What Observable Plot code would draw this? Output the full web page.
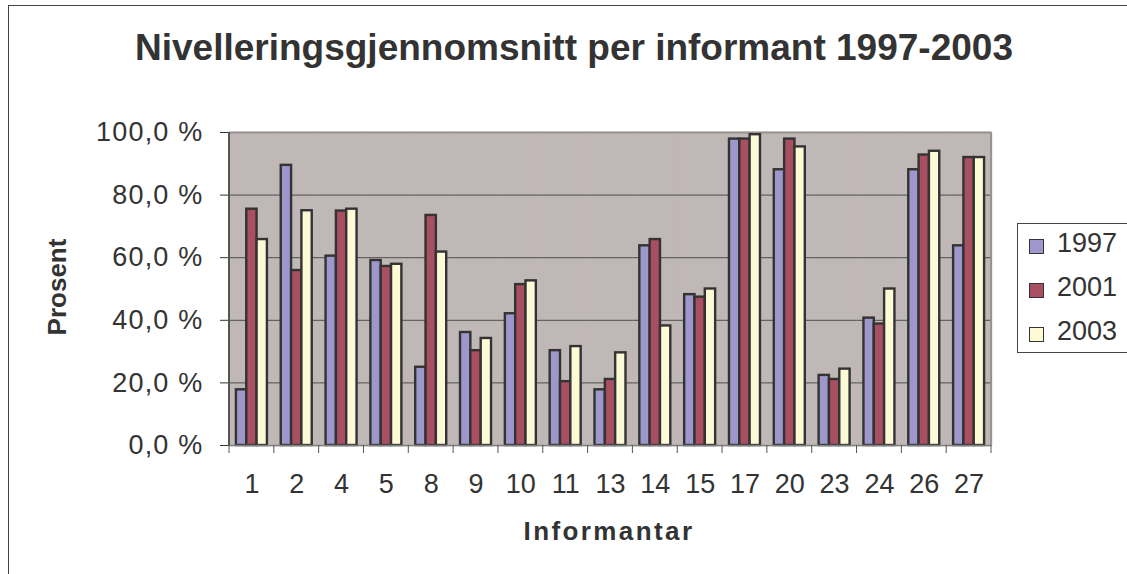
<!DOCTYPE html>
<html>
<head>
<meta charset="utf-8">
<script src="https://cdn.jsdelivr.net/npm/d3@7"></script>
<script src="https://cdn.jsdelivr.net/npm/@observablehq/plot@0.6"></script>
<style>
  html, body { margin: 0; padding: 0; background: #fff; overflow: hidden; }
  #wrap { position: relative; width: 1127px; height: 574px; overflow: hidden; font-family: "Liberation Sans", Arial, sans-serif; color: #333; }
  #border { position: absolute; left: 8px; top: 5px; width: 1200px; height: 700px; border: 1px solid #444; box-sizing: border-box; }
  #title { position: absolute; left: 0; width: 1148px; top: 29px; text-align: center; font-weight: bold; font-size: 37px; line-height: 37px; color: #333; white-space: nowrap; }
  #xlabel { position: absolute; left: 509px; width: 200px; top: 518px; text-align: center; font-weight: bold; font-size: 26px; line-height: 26px; letter-spacing: 2.4px; color: #333; }
  #ylabel { position: absolute; left: 57px; top: 287px; transform: translate(-50%, -50%) rotate(-90deg); font-weight: bold; font-size: 26px; line-height: 26px; color: #333; white-space: nowrap; }
  #chart { position: absolute; left: 0; top: 0; }
  #legend { position: absolute; left: 1017px; top: 223px; width: 200px; height: 130px; border: 1px solid #444; box-sizing: border-box; background: #fff; }
  .entry { position: absolute; left: 0; font-size: 27px; line-height: 27px; color: #333; white-space: nowrap; }
  .sw { position: absolute; left: 11px; top: 9px; width: 15px; height: 15px; border: 1.5px solid #333; box-sizing: border-box; }
  .lt { position: absolute; left: 39px; top: 0; }
</style>
</head>
<body>
<div id="wrap">
  <div id="border"></div>
  <div id="chart"></div>
  <div id="title">Nivelleringsgjennomsnitt per informant 1997-2003</div>
  <div id="ylabel">Prosent</div>
  <div id="xlabel">Informantar</div>
  <div id="legend"></div>
</div>
<script>
// ---- data ----
const informants = ["1","2","4","5","8","9","10","11","13","14","15","17","20","23","24","26","27"];
const years = ["1997","2001","2003"];
const v1997 = [17.8, 89.5, 60.5, 59.1, 25.0, 36.1, 42.1, 30.3, 17.8, 63.8, 48.2, 97.9, 88.1, 22.4, 40.7, 88.1, 63.8];
const v2001 = [75.5, 55.9, 74.9, 57.2, 73.5, 30.3, 51.4, 20.4, 21.1, 65.8, 47.4, 97.9, 97.9, 21.1, 38.8, 92.8, 92.0];
const v2003 = [65.8, 75.0, 75.5, 57.9, 61.8, 34.2, 52.6, 31.6, 29.6, 38.2, 50.0, 99.3, 95.4, 24.4, 50.0, 94.0, 92.0];
const yTicks = [0, 20, 40, 60, 80, 100];
const colors = ["#9d97cb", "#a84f62", "#fffad6"];

const series = [v1997, v2001, v2003];
const rows = informants.flatMap((inf, i) => years.map((yr, j) => ({informant: inf, year: yr, value: series[j][i]})));

const W = 1127, H = 574;
const bg = "#c0b8b6";
const plot = Plot.plot({
  width: W, height: H,
  marginLeft: 229, marginRight: 136, marginTop: 132, marginBottom: 129,
  style: {fontFamily: '"Liberation Sans", Arial, sans-serif', fontSize: "27px", color: "#333", background: "transparent", overflow: "visible"},
  fx: {domain: informants, padding: 0, round: false, label: null},
  x: {domain: years, paddingInner: 0, paddingOuter: 0.67, round: false, axis: null},
  y: {domain: [0, 100], label: null},
  color: {domain: years, range: colors},
  marks: [
    Plot.frame({fill: bg, stroke: bg, strokeWidth: 1.5}),
    Plot.ruleY(yTicks.filter(d => d > 0 && d < 100), {stroke: "#4d4d4d", strokeWidth: 1}),
    Plot.ruleY([100], {stroke: "#9a9290", strokeWidth: 2}),
    Plot.barY(rows, {fx: "informant", x: "year", y: "value", fill: "year", stroke: "#333", strokeWidth: 2.4, inset: 0}),
    Plot.ruleY([0], {stroke: "#808080", strokeWidth: 1.5}),
    Plot.axisY({ticks: yTicks, tickFormat: d => d.toFixed(1).replace(".", ",") + " %", tickSize: 9, tickPadding: 17, fontSize: 27, color: "#333", label: null}),
    Plot.axisFx({anchor: "bottom", tickSize: 0, tickPadding: 28, fontSize: 27, color: "#333", label: null})
  ]
});

document.getElementById("chart").appendChild(plot);

// y tick label letter spacing
d3.select(plot).selectAll('[aria-label="y-axis tick label"] text').style("letter-spacing", "1.2px");

// boundary ticks, y axis line, plot right edge, using the plot's own scales
const fxS = plot.scale("fx");
const yS = plot.scale("y");
const starts = informants.map(d => fxS.apply(d));
const xEnd = starts[starts.length - 1] + fxS.bandwidth;
const y0 = yS.apply(0), y100 = yS.apply(100);
const g = d3.select(plot).append("g");
g.selectAll("line.bt").data(starts.concat([xEnd])).join("line")
  .attr("x1", d => d).attr("x2", d => d).attr("y1", y0).attr("y2", y0 + 8)
  .attr("stroke", "#555").attr("stroke-width", 1);
g.append("line").attr("x1", xEnd).attr("x2", xEnd).attr("y1", y100).attr("y2", y0)
  .attr("stroke", "#9a9290").attr("stroke-width", 2);
g.append("line").attr("x1", starts[0]).attr("x2", starts[0]).attr("y1", y100).attr("y2", y0)
  .attr("stroke", "#555").attr("stroke-width", 2);

// legend
const leg = document.getElementById("legend");
years.forEach((yr, i) => {
  const e = document.createElement("div");
  e.className = "entry";
  e.style.top = (6 + i * 44) + "px";
  e.innerHTML = `<span class="sw" style="background:${colors[i]}"></span><span class="lt">${yr}</span>`;
  leg.appendChild(e);
});
</script>
</body>
</html>
